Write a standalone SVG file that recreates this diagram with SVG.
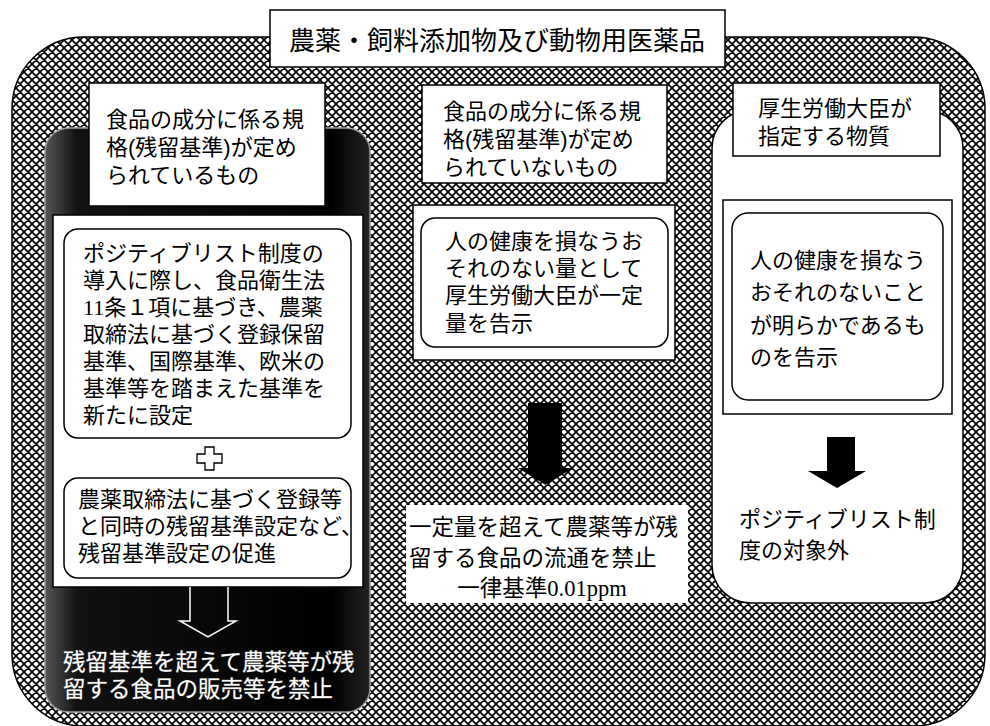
<svg xmlns="http://www.w3.org/2000/svg" width="990" height="726" viewBox="0 0 990 726">
<defs>
<pattern id="hatch" patternUnits="userSpaceOnUse" width="8" height="8">
<rect width="8" height="8" fill="#fff"/>
<path d="M0,0L8,8M8,0L0,8M-1,7L1,9M7,-1L9,1M-1,1L1,-1M7,9L9,7" stroke="#000" stroke-width="1.7"/>
</pattern>
<linearGradient id="blk" x1="0" y1="0" x2="1" y2="0">
<stop offset="0" stop-color="#555"/>
<stop offset="0.1" stop-color="#111"/>
<stop offset="0.88" stop-color="#000"/>
<stop offset="1" stop-color="#222"/>
</linearGradient>
<style>
.sans{font-family:"Liberation Sans","Noto Sans CJK JP",sans-serif;font-size:22px;fill:#000}
.ser{font-family:"Liberation Serif","Noto Sans CJK JP",serif;font-size:22px;fill:#000}
.box{fill:#fff;stroke:#000;stroke-width:1.5}
.rbox{fill:#fff;stroke:#000;stroke-width:1.5}
.inv{font-family:"Liberation Serif","Noto Sans CJK JP",serif;font-size:22.5px;fill:#fff;stroke:#555;stroke-width:0.8;paint-order:stroke}
</style>
</defs>

<g id="outer">
<rect x="12" y="37" width="973" height="689" rx="72" ry="72" fill="url(#hatch)" stroke="#000" stroke-width="1.5"/>
</g>

<g id="title">
<rect x="270" y="10" width="455" height="57" class="box"/>
<text x="497" y="50" text-anchor="middle" class="sans" style="font-size:26px">農薬・飼料添加物及び動物用医薬品</text>
</g>

<g id="left-column">
<rect x="45" y="128" width="325" height="584" rx="24" ry="24" fill="url(#blk)" stroke="#999" stroke-width="1.5"/>
<rect x="53" y="215" width="310" height="372" class="box"/>
</g>

<g id="left-header">
<rect x="89" y="83" width="236" height="123" class="box"/>
<text class="sans"><tspan x="106" y="127">食品の成分に係る規</tspan><tspan x="106" y="155">格(残留基準)が定め</tspan><tspan x="106" y="183">られているもの</tspan></text>
</g>

<g id="left-box1">
<rect x="64" y="229" width="287" height="209" rx="14" ry="14" class="rbox"/>
<text class="ser"><tspan x="83" y="261">ポジティブリスト制度の</tspan><tspan x="83" y="288">導入に際し、食品衛生法</tspan><tspan x="83" y="315">11条１項に基づき、農薬</tspan><tspan x="83" y="342">取締法に基づく登録保留</tspan><tspan x="83" y="369">基準、国際基準、欧米の</tspan><tspan x="83" y="396">基準等を踏まえた基準を</tspan><tspan x="83" y="423">新たに設定</tspan></text>
</g>

<g id="plus">
<path d="M205,447H214V454H222V463H214V470H205V463H197V454H205Z" fill="#fff" stroke="#000" stroke-width="1.3"/>
</g>

<g id="left-box2">
<rect x="64" y="478" width="287" height="100" rx="14" ry="14" class="rbox"/>
<text class="ser"><tspan x="78" y="507">農薬取締法に基づく登録等</tspan><tspan x="78" y="534">と同時の残留基準設定など、</tspan><tspan x="78" y="561">残留基準設定の促進</tspan></text>
</g>

<g id="left-result">
<text class="inv"><tspan x="63" y="670">残留基準を超えて農薬等が残</tspan><tspan x="63" y="697">留する食品の販売等を禁止</tspan></text>
</g>

<g id="middle-header">
<rect x="422" y="85" width="245" height="98" class="box"/>
<text class="sans"><tspan x="443" y="119">食品の成分に係る規</tspan><tspan x="443" y="147">格(残留基準)が定め</tspan><tspan x="443" y="175">られていないもの</tspan></text>
</g>

<g id="middle-box">
<rect x="413" y="205" width="262" height="155" class="box"/>
<rect x="421" y="218" width="247" height="129" rx="14" ry="14" class="rbox"/>
<text class="ser"><tspan x="445" y="249">人の健康を損なうお</tspan><tspan x="445" y="276">それのない量として</tspan><tspan x="445" y="303">厚生労働大臣が一定</tspan><tspan x="445" y="331">量を告示</tspan></text>
</g>

<g id="middle-result">
<rect x="406" y="505" width="282" height="98" fill="#fff"/>
<text class="ser" style="font-size:22.5px"><tspan x="409" y="535">一定量を超えて農薬等が残</tspan><tspan x="409" y="566">留する食品の流通を禁止</tspan><tspan x="542" y="596" text-anchor="middle">一律基準0.01ppm</tspan></text>
</g>

<g id="right-panel">
<rect x="712" y="110" width="251" height="493" rx="38" ry="38" fill="#fff" stroke="#000" stroke-width="1.5"/>
</g>

<g id="right-header">
<rect x="733" y="83" width="207" height="73" class="box"/>
<text class="sans"><tspan x="758" y="116">厚生労働大臣が</tspan><tspan x="758" y="144">指定する物質</tspan></text>
</g>

<g id="right-box">
<rect x="723" y="200" width="229" height="214" class="box"/>
<rect x="732" y="213" width="211" height="187" rx="16" ry="16" class="rbox"/>
<text class="ser"><tspan x="750" y="268">人の健康を損なう</tspan><tspan x="750" y="300">おそれのないこと</tspan><tspan x="750" y="333">が明らかであるも</tspan><tspan x="750" y="365">のを告示</tspan></text>
</g>

<g id="right-result">
<text class="ser"><tspan x="739" y="527">ポジティブリスト制</tspan><tspan x="739" y="558">度の対象外</tspan></text>
</g>

<g id="connectors">
<path d="M190,587V621H180L208,637L236,621H228V587" fill="none" stroke="#fff" stroke-width="1.5"/>
<path d="M528,403H562V468H573L545.5,485L518,468H528Z" fill="#000"/>
<path d="M827,437H855V471H866L837,488L808,471H827Z" fill="#000"/>
</g>
</svg>
